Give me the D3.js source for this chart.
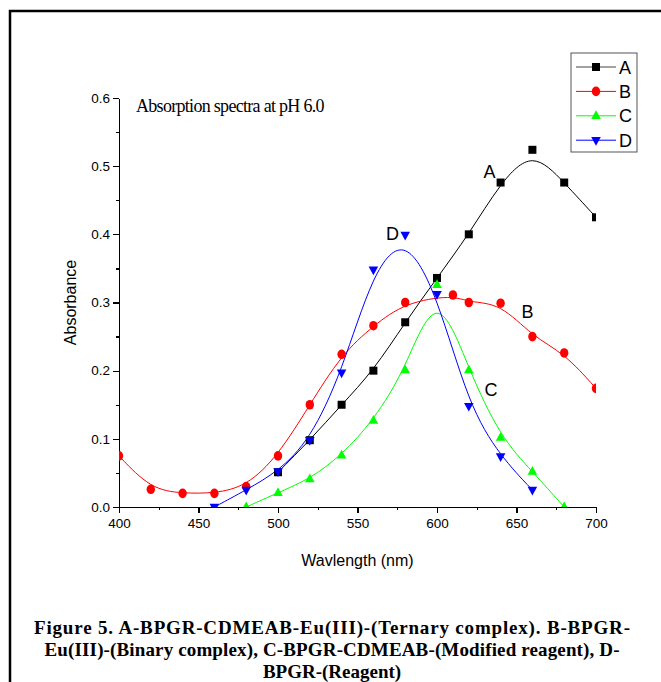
<!DOCTYPE html>
<head>
<meta charset="utf-8">
<style>
body { margin: 0; background: #fff; }
svg { display: block; }
.axis path, .axis line { stroke: #000; stroke-width: 1.2px; shape-rendering: crispEdges; }
.axis text { font-family: Arial, "Liberation Sans", sans-serif; font-size: 13.5px; fill: #000; }
.curve { fill: none; stroke-width: 1px; }
.lbl { font-family: Arial, "Liberation Sans", sans-serif; font-size: 18px; }
.cap { font-family: "Liberation Serif", "Times New Roman", serif; font-size: 19px; font-weight: bold; }
</style>
<title>Absorption spectra</title>
</head>
<body>
<script src="https://cdn.jsdelivr.net/npm/d3@7/dist/d3.min.js"></script>
<script>

// wavelengths (nm) and absorbance
var wlA = [500, 520, 540, 560, 580, 600, 620, 640, 660, 680, 700];
var absA = [0.051, 0.098, 0.150, 0.200, 0.271, 0.336, 0.400, 0.476, 0.524, 0.476, 0.425];

var wlB = [400, 420, 440, 460, 480, 500, 520, 540, 560, 580, 610, 620, 640, 660, 680, 700];
var absB = [0.075, 0.026, 0.020, 0.020, 0.030, 0.075, 0.150, 0.224, 0.266, 0.300, 0.311, 0.300, 0.299, 0.250, 0.226, 0.174];

var wlC = [480, 500, 520, 540, 560, 580, 600, 620, 640, 660, 680];
var absC = [0.000, 0.021, 0.041, 0.076, 0.127, 0.201, 0.326, 0.201, 0.102, 0.052, 0.000];

var wlD = [460, 480, 500, 520, 540, 560, 580, 600, 620, 640, 660];
var absD = [0.000, 0.025, 0.052, 0.098, 0.197, 0.348, 0.399, 0.312, 0.148, 0.074, 0.025];

var seriesNames = ["A", "B", "C", "D"];
var xTicks = [400, 450, 500, 550, 600, 650, 700];
var yTicks = [0.0, 0.1, 0.2, 0.3, 0.4, 0.5, 0.6];

var width = 661, height = 682;
var plot = { left: 119, right: 596, top: 98, bottom: 507 };

// lx/ly: where the curve letter sits, in data units
var series = [
  { name: "A", color: "#000000", legendLine: "#444", shape: "square", pts: d3.zip(wlA, absA), lx: 633, ly: 0.482 },
  { name: "B", color: "#ff0000", legendLine: "#ff0000", shape: "circle", pts: d3.zip(wlB, absB), lx: 657, ly: 0.277 },
  { name: "C", color: "#00ff00", legendLine: "#00ff00", shape: "up", pts: d3.zip(wlC, absC), lx: 634, ly: 0.163 },
  { name: "D", color: "#0000ff", legendLine: "#0000ff", shape: "down", pts: d3.zip(wlD, absD), lx: 572, ly: 0.391 }
];

var svg = d3.select("body").append("svg")
    .attr("width", width)
    .attr("height", height);

// outer figure frame
svg.append("path")
    .attr("d", "M10," + (height + 5) + "V11H" + (width + 5))
    .attr("fill", "none")
    .attr("stroke", "#000")
    .attr("stroke-width", 2.5);

var x = d3.scaleLinear().domain([400, 700]).range([plot.left, plot.right]);
var y = d3.scaleLinear().domain([0, 0.6]).range([plot.bottom, plot.top]);

svg.append("defs").append("clipPath")
    .attr("id", "clip")
  .append("rect")
    .attr("x", plot.left).attr("y", plot.top)
    .attr("width", plot.right - plot.left)
    .attr("height", plot.bottom - plot.top);

// minor ticks
svg.append("g").attr("class", "axis")
    .attr("transform", "translate(0," + plot.bottom + ")")
    .call(d3.axisBottom(x).tickValues(d3.range(425, 700, 50)).tickSize(3).tickFormat(""))
    .select(".domain").remove();
svg.append("g").attr("class", "axis")
    .attr("transform", "translate(" + plot.left + ",0)")
    .call(d3.axisLeft(y).tickValues([0.05, 0.15, 0.25, 0.35, 0.45, 0.55]).tickSize(3).tickFormat(""))
    .select(".domain").remove();

svg.append("g").attr("class", "axis")
    .attr("transform", "translate(0," + plot.bottom + ")")
    .call(d3.axisBottom(x).tickValues(xTicks).tickSize(6).tickSizeOuter(0).tickPadding(5).tickFormat(d3.format("d")));

svg.append("g").attr("class", "axis")
    .attr("transform", "translate(" + plot.left + ",0)")
    .call(d3.axisLeft(y).tickValues(yTicks).tickSize(6).tickSizeOuter(0).tickPadding(3).tickFormat(d3.format(".1f")));

// axis titles
svg.append("text")
    .attr("x", (plot.left + plot.right) / 2)
    .attr("y", 566)
    .attr("text-anchor", "middle")
    .attr("font-family", "Arial, 'Liberation Sans', sans-serif")
    .attr("font-size", 16)
    .text("Wavlength (nm)");

svg.append("text")
    .attr("transform", "translate(76," + ((plot.top + plot.bottom) / 2) + ")rotate(-90)")
    .attr("text-anchor", "middle")
    .attr("font-family", "Arial, 'Liberation Sans', sans-serif")
    .attr("font-size", 16)
    .text("Absorbance");

var markerPath = {
  square: "M-4,-4H4V4H-4Z",
  up: "M0,-5.5L4.8,3.2H-4.8Z",
  down: "M0,5.5L4.8,-3.2H-4.8Z"
};

function drawMarker(sel, s) {
  if (s.shape === "circle") {
    sel.append("ellipse").attr("rx", 4.2).attr("ry", 4.8).attr("fill", s.color);
  } else {
    sel.append("path").attr("d", markerPath[s.shape]).attr("fill", s.color);
  }
}

var line = d3.line()
    .curve(d3.curveBasis)
    .x(function(d) { return x(d[0]); })
    .y(function(d) { return y(d[1]); });

var plotG = svg.append("g").attr("clip-path", "url(#clip)");

series.forEach(function(s) {
  plotG.append("path")
      .attr("class", "curve")
      .attr("stroke", s.color)
      .attr("d", line(s.pts));
});

series.forEach(function(s) {
  plotG.selectAll(null)
      .data(s.pts)
    .enter().append("g")
      .attr("transform", function(d) { return "translate(" + x(d[0]) + "," + y(d[1]) + ")"; })
      .each(function() { drawMarker(d3.select(this), s); });
});

// curve labels
series.forEach(function(s) {
  svg.append("text")
      .attr("class", "lbl")
      .attr("x", x(s.lx))
      .attr("y", y(s.ly))
      .attr("text-anchor", "middle")
      .text(s.name);
});

// note
svg.append("text")
    .attr("x", 136)
    .attr("y", 112)
    .attr("font-family", "'Liberation Serif', 'Times New Roman', serif")
    .attr("font-size", 18)
    .attr("letter-spacing", -0.7)
    .text("Absorption spectra at pH 6.0");

// legend
var legend = svg.append("g").attr("transform", "translate(571,53)");
legend.append("rect")
    .attr("width", 66).attr("height", 99)
    .attr("fill", "#fff")
    .attr("stroke", "#555")
    .attr("stroke-width", 1);

var items = legend.selectAll("g.item")
    .data(series)
  .enter().append("g")
    .attr("class", "item")
    .attr("transform", function(d, i) { return "translate(0," + (14 + i * 24.4) + ")"; });

items.append("line")
    .attr("x1", 5).attr("x2", 45)
    .attr("stroke", function(d) { return d.legendLine; })
    .attr("stroke-width", 1);

items.append("g")
    .attr("transform", "translate(25,0)")
    .each(function(d) { drawMarker(d3.select(this), d); });

items.append("text")
    .attr("class", "lbl")
    .attr("x", 48)
    .attr("y", 6.5)
    .text(function(d) { return d.name; });

// caption
var caption = [
  "Figure 5.  A-BPGR-CDMEAB-Eu(III)-(Ternary complex). B-BPGR-",
  "Eu(III)-(Binary complex), C-BPGR-CDMEAB-(Modified reagent), D-",
  "BPGR-(Reagent)"
];
var captionWidth = [596, 575, null];
svg.selectAll("text.cap")
    .data(caption)
  .enter().append("text")
    .attr("class", "cap")
    .attr("x", function(d, i) { return captionWidth[i] ? 332 - captionWidth[i] / 2 : 332; })
    .attr("y", function(d, i) { return 634 + i * 22; })
    .attr("text-anchor", function(d, i) { return captionWidth[i] ? "start" : "middle"; })
    .attr("textLength", function(d, i) { return captionWidth[i]; })
    .attr("lengthAdjust", "spacing")
    .text(function(d) { return d; });

</script>
</body>
